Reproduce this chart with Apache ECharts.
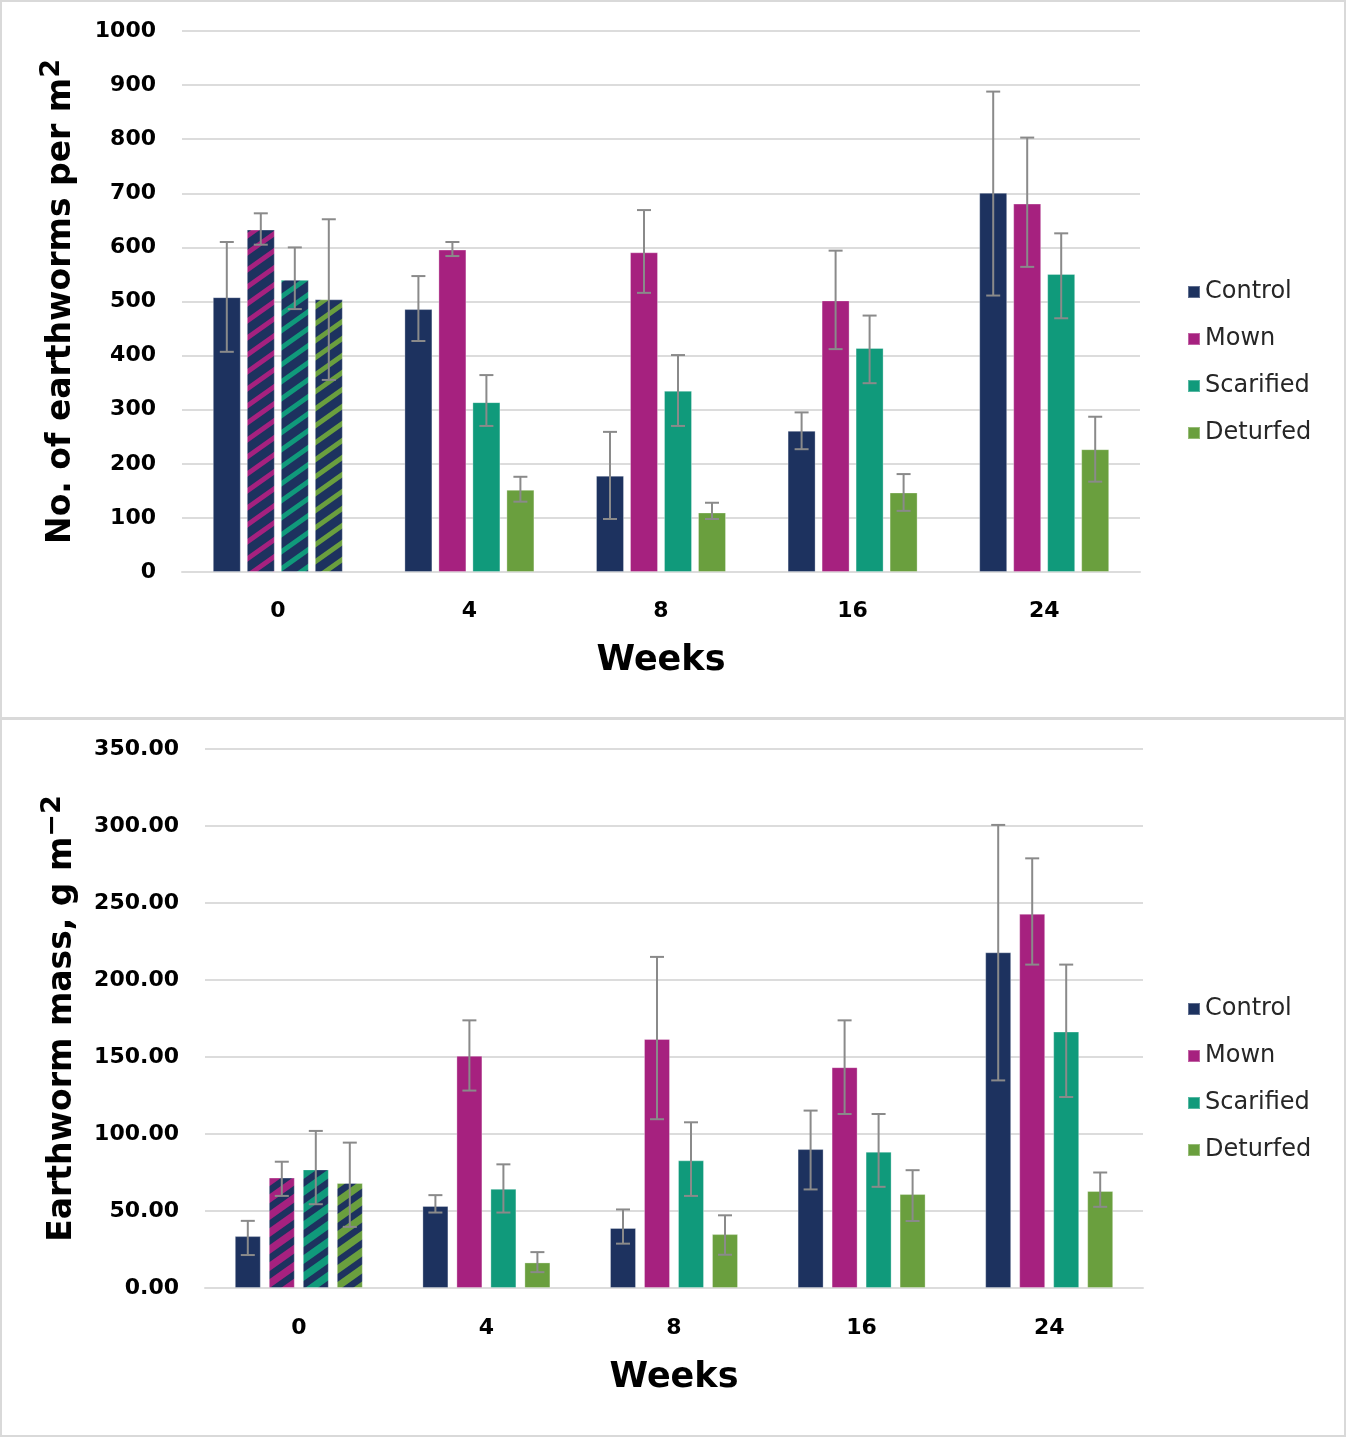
<!DOCTYPE html>
<html><head><meta charset="utf-8">
<script src="https://cdn.jsdelivr.net/npm/echarts@6/dist/echarts.min.js"></script>
<style>html,body{margin:0;padding:0;background:#fff}#c{width:1350px;height:1439px}</style>
</head><body><div id="c"></div>
<script>
// ---------- data ----------
const weeks = ['0', '4', '8', '16', '24'];
const treatments = ['Control', 'Mown', 'Scarified', 'Deturfed'];
const colors = ['#1d325f', '#a6217f', '#109a7b', '#6a9f3e'];

// Top chart: No. of earthworms per m2
const countControl   = [508, 486, 178, 261, 701];
const countMown      = [633, 596, 591, 502, 681];
const countScarified = [540, 314, 335, 414, 551];
const countDeturfed  = [504, 152, 110, 147, 227];
const countControlLo   = [407, 427, 98, 227, 511];
const countControlHi   = [610, 547, 259, 295, 888];
const countMownLo      = [605, 584, 516, 412, 564];
const countMownHi      = [663, 610, 669, 594, 803];
const countScarifiedLo = [486, 270, 270, 349, 469];
const countScarifiedHi = [600, 364, 401, 474, 626];
const countDeturfedLo  = [355, 130, 98, 113, 167];
const countDeturfedHi  = [652, 176, 128, 181, 287];
const countTicks = [0, 100, 200, 300, 400, 500, 600, 700, 800, 900, 1000];

// Bottom chart: Earthworm mass, g m-2
const massControl   = [33.7, 53.3, 39.0, 90.2, 218.0];
const massMown      = [71.7, 150.8, 161.7, 143.4, 243.0];
const massScarified = [77.0, 64.4, 82.9, 88.5, 166.5];
const massDeturfed  = [68.2, 16.6, 35.0, 61.0, 63.0];
const massControlLo   = [21.4, 49.0, 28.8, 64.0, 134.8];
const massControlHi   = [43.6, 60.3, 51.0, 115.2, 300.7];
const massMownLo      = [59.8, 128.2, 109.6, 113.0, 210.0];
const massMownHi      = [82.0, 173.8, 215.0, 173.8, 279.0];
const massScarifiedLo = [54.4, 49.0, 59.8, 65.7, 124.0];
const massScarifiedHi = [102.0, 80.3, 107.6, 113.0, 210.0];
const massDeturfedLo  = [39.7, 10.3, 21.6, 43.5, 52.7];
const massDeturfedHi  = [94.4, 23.3, 47.2, 76.5, 75.0];
const massTicks = [0, 50, 100, 150, 200, 250, 300, 350];

// ---------- helpers ----------
function hatch(bg, stripe, thick) {
  const W = 24, H = 17;
  const c = document.createElement('canvas');
  c.width = W; c.height = H;
  const g = c.getContext('2d');
  g.fillStyle = bg; g.fillRect(0, 0, W, H);
  g.fillStyle = stripe;
  for (let k = -1; k <= 2; k++) {
    g.beginPath();
    g.moveTo(0, k * H);
    g.lineTo(W, k * H - H);
    g.lineTo(W, k * H - H + thick);
    g.lineTo(0, k * H + thick);
    g.closePath();
    g.fill();
  }
  return { image: c, repeat: 'repeat' };
}

const FONT = 'DejaVu Sans';
const means = [
  [countControl, countMown, countScarified, countDeturfed],
  [massControl, massMown, massScarified, massDeturfed]
];
const lows = [
  [countControlLo, countMownLo, countScarifiedLo, countDeturfedLo],
  [massControlLo, massMownLo, massScarifiedLo, massDeturfedLo]
];
const highs = [
  [countControlHi, countMownHi, countScarifiedHi, countDeturfedHi],
  [massControlHi, massMownHi, massScarifiedHi, massDeturfedHi]
];
const barW = [28, 26];
const barPitch = [34, 34];

const series = [];
for (let ci = 0; ci < 2; ci++) {
  for (let s = 0; s < 4; s++) {
    const data = means[ci][s].map((v, i) => {
      if (i === 0 && s > 0) {
        const pat = ci === 0 ? hatch(colors[0], colors[s], 6) : hatch(colors[s], colors[0], 8);
        return { value: v, itemStyle: { color: pat } };
      }
      return v;
    });
    series.push({
      type: 'bar', name: treatments[s], xAxisIndex: ci, yAxisIndex: ci,
      data: data, barWidth: barW[ci], barGap: ((barPitch[ci] - barW[ci]) / barW[ci] * 100) + '%',
      itemStyle: { color: colors[s], borderColor: 'rgba(255,255,255,0.3)', borderWidth: 1 },
      emphasis: { disabled: true }, z: 2
    });
  }
  for (let s = 0; s < 4; s++) {
    const off = (s - 1.5) * barPitch[ci];
    series.push({
      type: 'custom', name: treatments[s] + ' err', xAxisIndex: ci, yAxisIndex: ci, z: 5,
      data: lows[ci][s].map((lo, i) => [i, lo, highs[ci][s][i]]),
      renderItem: function (params, api) {
        const i = api.value(0);
        const x = api.coord([i, 0])[0] + off;
        const yl = api.coord([i, api.value(1)])[1];
        const yh = api.coord([i, api.value(2)])[1];
        const st = { stroke: '#8a8a8a', lineWidth: 2 };
        const cw = 7;
        return { type: 'group', children: [
          { type: 'line', shape: { x1: x, y1: yl, x2: x, y2: yh }, style: st },
          { type: 'line', shape: { x1: x - cw, y1: yl, x2: x + cw, y2: yl }, style: st },
          { type: 'line', shape: { x1: x - cw, y1: yh, x2: x + cw, y2: yh }, style: st }
        ]};
      },
      encode: { x: 0, y: [1, 2] },
      silent: true
    });
  }
}

const gridLine = { show: true, lineStyle: { color: '#dcdcdc', width: 2 } };
function xAx(idx) {
  return {
    type: 'category', gridIndex: idx, data: weeks,
    axisLine: { show: true, lineStyle: { color: '#dcdcdc', width: 2 } },
    axisTick: { show: false },
    axisLabel: { color: '#000', fontFamily: FONT, fontWeight: 'bold', fontSize: 22, margin: idx === 0 ? 28 : 29 },
    name: 'Weeks', nameLocation: 'middle', nameGap: idx === 0 ? 71 : 72,
    nameTextStyle: { color: '#000', fontFamily: FONT, fontWeight: 'bold', fontSize: 35 }
  };
}
function yAx(idx, ticks, nameRich, fmt) {
  return {
    type: 'value', gridIndex: idx, min: ticks[0], max: ticks[ticks.length - 1],
    interval: ticks[1] - ticks[0],
    axisLine: { show: false }, axisTick: { show: false },
    splitLine: gridLine,
    axisLabel: { color: '#000', fontFamily: FONT, fontWeight: 'bold', fontSize: 22, margin: 26, formatter: fmt },
    name: nameRich, nameLocation: 'middle', nameGap: idx === 0 ? 98 : 120, nameRotate: 90,
    nameTextStyle: {
      rich: {
        a: { color: '#000', fontFamily: FONT, fontWeight: 'bold', fontSize: 33, lineHeight: 46 },
        s: { color: '#000', fontFamily: FONT, fontWeight: 'bold', fontSize: 27, lineHeight: 26, verticalAlign: 'top' }
      }
    }
  };
}

const legendCommon = {
  orient: 'vertical', left: 1182, itemWidth: 12, itemHeight: 12, itemGap: 23, icon: 'rect',
  textStyle: { color: '#262626', fontFamily: FONT, fontSize: 24, padding: [0, 0, 0, 0] },
  data: treatments
};

const option = {
  animation: false,
  backgroundColor: '#fff',
  grid: [
    { left: 182, top: 31, width: 958, height: 541 },
    { left: 205, top: 749, width: 938, height: 539 }
  ],
  xAxis: [xAx(0), xAx(1)],
  yAxis: [
    yAx(0, countTicks, '{a|No. of earthworms per m}{s|2}', v => String(v)),
    yAx(1, massTicks, '{a|Earthworm mass, g m}{s|\u22122}', v => v.toFixed(2))
  ],
  legend: [
    Object.assign({}, legendCommon, { top: 275 }),
    Object.assign({}, legendCommon, { top: 992 })
  ],
  graphic: [
    { type: 'rect', shape: { x: 1, y: 1, width: 1344, height: 717 }, style: { fill: 'none', stroke: '#d9d9d9', lineWidth: 2 }, silent: true },
    { type: 'rect', shape: { x: 1, y: 719, width: 1344, height: 717 }, style: { fill: 'none', stroke: '#d9d9d9', lineWidth: 2 }, silent: true }
  ],
  series: series
};

const chart = echarts.init(document.getElementById('c'), null, { renderer: 'canvas' });
chart.setOption(option);
</script>
</body></html>
